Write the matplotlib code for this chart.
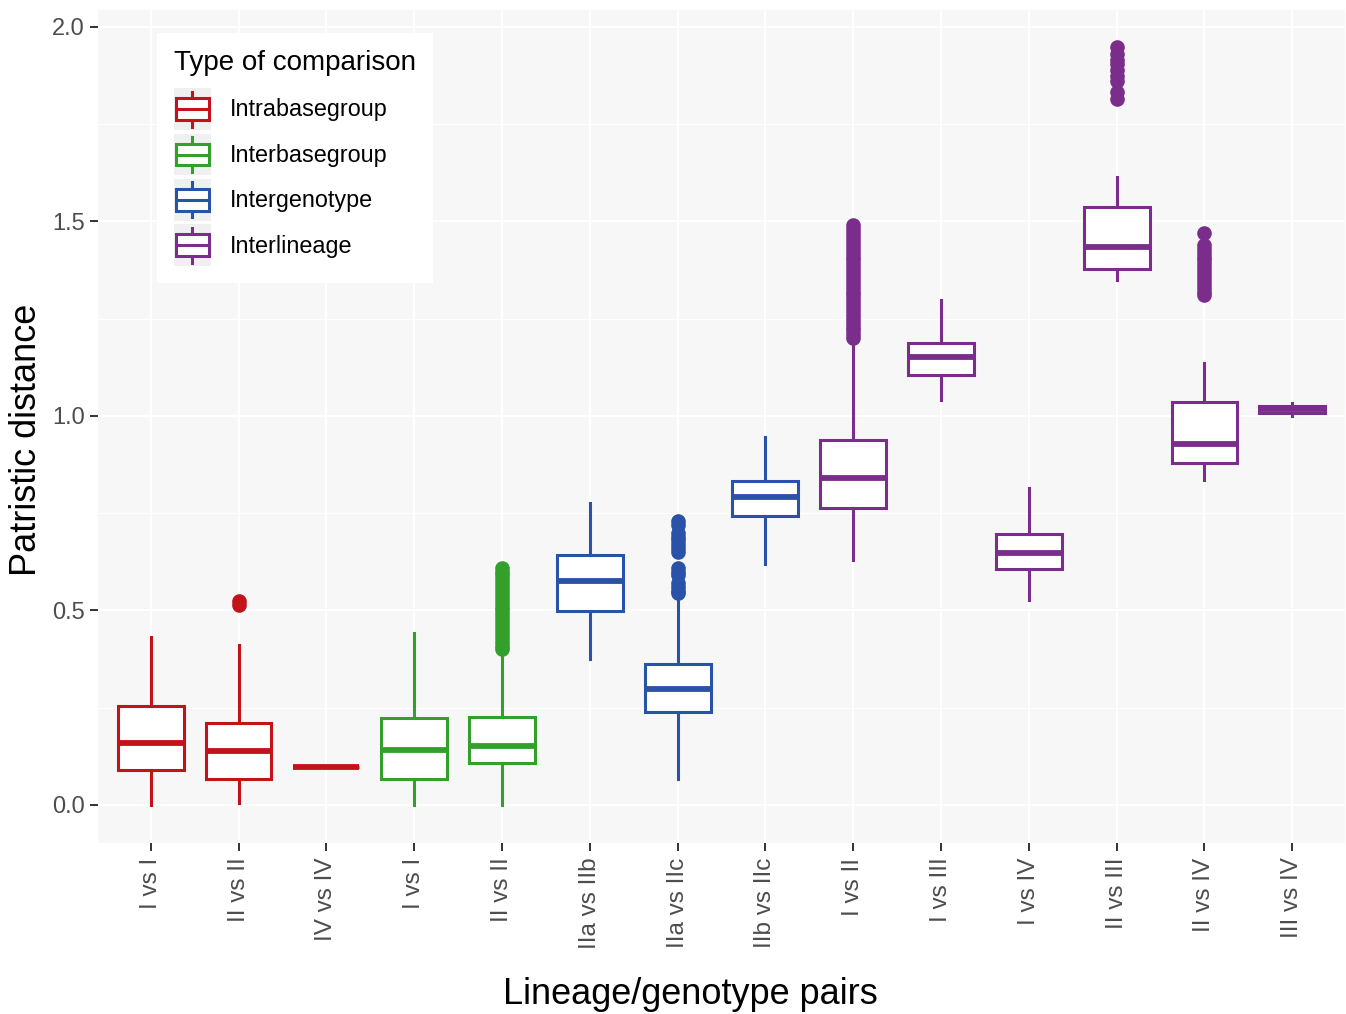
import matplotlib
matplotlib.use('Agg')
import matplotlib.pyplot as plt
import matplotlib.patches as mpatches
from matplotlib.legend_handler import HandlerBase
from matplotlib.lines import Line2D

plt.rcParams['font.family'] = ['Liberation Sans', 'DejaVu Sans']

# Summary statistics
pair_labels = ['I vs I', 'II vs II', 'IV vs IV', 'I vs I', 'II vs II',
               'IIa vs IIb', 'IIa vs IIc', 'IIb vs IIc', 'I vs II', 'I vs III',
               'I vs IV', 'II vs III', 'II vs IV', 'III vs IV']
comparison_type = ['Intrabasegroup', 'Intrabasegroup', 'Intrabasegroup',
                   'Interbasegroup', 'Interbasegroup',
                   'Intergenotype', 'Intergenotype', 'Intergenotype',
                   'Interlineage', 'Interlineage', 'Interlineage',
                   'Interlineage', 'Interlineage', 'Interlineage']
whisker_low = [0.000, 0.006, 0.097, 0.000, 0.000, 0.375, 0.068, 0.619,
               0.630, 1.041, 0.527, 1.350, 0.835, 1.000]
q1 = [0.089, 0.067, 0.097, 0.067, 0.108, 0.499, 0.240, 0.743,
      0.763, 1.105, 0.607, 1.377, 0.880, 1.008]
median = [0.159, 0.140, 0.097, 0.141, 0.152, 0.577, 0.299, 0.793,
          0.840, 1.152, 0.648, 1.434, 0.927, 1.018]
q3 = [0.254, 0.210, 0.097, 0.223, 0.225, 0.643, 0.362, 0.833,
      0.938, 1.188, 0.697, 1.538, 1.037, 1.026]
whisker_high = [0.433, 0.411, 0.097, 0.443, 0.390, 0.776, 0.535, 0.946,
                1.190, 1.298, 0.815, 1.615, 1.135, 1.033]
outliers = [
    [],
    [0.515, 0.525],
    [],
    [],
    [0.40, 0.41, 0.42, 0.43, 0.44, 0.45, 0.46, 0.47, 0.48, 0.49, 0.50,
     0.51, 0.52, 0.53, 0.54, 0.55, 0.56, 0.57, 0.58, 0.59, 0.60, 0.61],
    [],
    [0.545, 0.55, 0.56, 0.57, 0.59, 0.60, 0.61, 0.65, 0.66, 0.67, 0.68,
     0.69, 0.70, 0.72, 0.73],
    [],
    [1.20, 1.21, 1.22, 1.23, 1.24, 1.25, 1.26, 1.27, 1.28, 1.29, 1.30,
     1.31, 1.32, 1.33, 1.34, 1.35, 1.36, 1.37, 1.38, 1.39, 1.40, 1.41,
     1.42, 1.43, 1.44, 1.45, 1.46, 1.47, 1.48, 1.49],
    [],
    [],
    [1.816, 1.834, 1.86, 1.875, 1.89, 1.905, 1.915, 1.93, 1.949],
    [1.31, 1.32, 1.33, 1.34, 1.35, 1.36, 1.37, 1.38, 1.39, 1.40, 1.41,
     1.42, 1.43, 1.44, 1.47],
    [],
]

type_names = ['Intrabasegroup', 'Interbasegroup', 'Intergenotype', 'Interlineage']
type_colors = {'Intrabasegroup': '#C4121A', 'Interbasegroup': '#33A02C',
               'Intergenotype': '#2A52A8', 'Interlineage': '#7B2D8B'}


class BoxKeyHandler(HandlerBase):
    # ggplot-like boxplot legend key
    def create_artists(self, legend, orig_handle, xdescent, ydescent,
                       width, height, fontsize, trans):
        color = orig_handle.get_edgecolor()
        x0, y0 = -xdescent, -ydescent
        bg = mpatches.Rectangle((x0, y0), width, height, facecolor='#F0F0F0',
                                edgecolor='none', transform=trans)
        box = mpatches.Rectangle((x0 + 0.05 * width, y0 + 0.24 * height),
                                 0.9 * width, 0.52 * height, facecolor='white',
                                 edgecolor=color, lw=2.2, transform=trans)
        xm = x0 + width / 2
        w_lo = Line2D([xm, xm], [y0 + 0.08 * height, y0 + 0.24 * height],
                      color=color, lw=2.2, transform=trans)
        w_hi = Line2D([xm, xm], [y0 + 0.76 * height, y0 + 0.92 * height],
                      color=color, lw=2.2, transform=trans)
        med = Line2D([x0 + 0.05 * width, x0 + 0.95 * width],
                     [y0 + 0.5 * height, y0 + 0.5 * height],
                     color=color, lw=2.2, transform=trans)
        return [bg, w_lo, w_hi, box, med]


fig = plt.figure(figsize=(13.46, 10.14), dpi=100)
fig.patch.set_facecolor('white')
ax = fig.add_axes([98 / 1346, 1 - 843 / 1014, 1247 / 1346, 833 / 1014])
ax.set_facecolor('#F7F7F7')

positions = list(range(1, len(pair_labels) + 1))
for i, pos in enumerate(positions):
    color = type_colors[comparison_type[i]]
    stats = [{'whislo': whisker_low[i], 'q1': q1[i], 'med': median[i],
              'q3': q3[i], 'whishi': whisker_high[i], 'fliers': outliers[i]}]
    ax.bxp(stats, positions=[pos], widths=0.75, patch_artist=True,
           showcaps=False, zorder=3,
           boxprops=dict(facecolor='white', edgecolor=color, linewidth=2.2),
           whiskerprops=dict(color=color, linewidth=2.2),
           medianprops=dict(color=color, linewidth=4.2, solid_capstyle='butt'),
           flierprops=dict(marker='o', markerfacecolor=color,
                           markeredgecolor=color, markersize=9.5))

ax.set_xlim(0.4, 14.6)
ax.set_ylim(-0.0977, 2.0437)
ax.set_xticks(positions)
ax.set_xticklabels(pair_labels, rotation=90, fontsize=17.5, color='#4D4D4D')
ax.set_yticks([0.0, 0.5, 1.0, 1.5, 2.0])
ax.set_yticklabels(['0.0', '0.5', '1.0', '1.5', '2.0'], fontsize=17, color='#4D4D4D')
ax.set_yticks([0.25, 0.75, 1.25, 1.75], minor=True)
ax.tick_params(axis='both', which='major', length=5.5, width=1.4, color='#333333')
ax.tick_params(axis='x', pad=5)
ax.tick_params(axis='y', pad=4)
ax.tick_params(axis='y', which='minor', length=0)
ax.grid(True, which='major', color='white', linewidth=1.6, zorder=0)
ax.grid(True, which='minor', axis='y', color='white', linewidth=0.8, zorder=0)
ax.set_axisbelow(True)
for spine in ax.spines.values():
    spine.set_visible(False)

fig.text(27 / 1346, 1 - 440 / 1014, 'Patristic distance', rotation=90,
         ha='center', va='center', fontsize=26)
fig.text(690 / 1346, 1 - 995 / 1014, 'Lineage/genotype pairs',
         ha='center', va='center', fontsize=26)

handles = [mpatches.Patch(edgecolor=type_colors[t], facecolor='white') for t in type_names]
leg = ax.legend(handles, type_names, handler_map={mpatches.Patch: BoxKeyHandler()},
                loc='upper left', bbox_to_anchor=(157 / 1346, 1 - 33 / 1014),
                bbox_transform=fig.transFigure, borderaxespad=0,
                title='Type of comparison', title_fontsize=20, fontsize=16.8,
                alignment='left', handlelength=1.6, handleheight=2.37,
                labelspacing=0.16, handletextpad=0.8, borderpad=0.72,
                fancybox=False, frameon=True, framealpha=1)
leg.get_frame().set_facecolor('white')
leg.get_frame().set_edgecolor('none')
leg.set_zorder(5)
# extra gap between the legend title and the first key, as in ggplot
leg._legend_box.sep = 9

fig.savefig('out.png', dpi=100)
